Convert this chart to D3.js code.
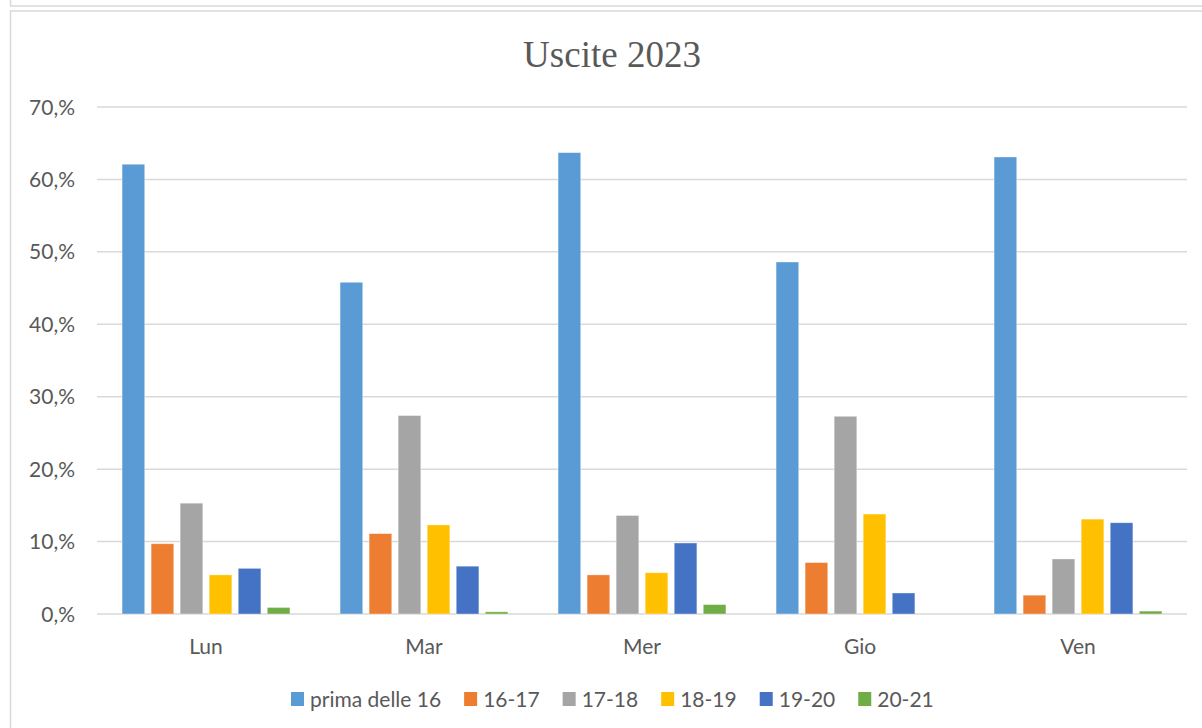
<!DOCTYPE html>
<html>
<head>
<meta charset="utf-8">
<script src="https://cdn.jsdelivr.net/npm/d3@7"></script>
<style>
  body { margin: 0; background: #fff; }
  svg { display: block; }
  .tick-label, .cat-label, .legend-label { font-family: Lato, "Open Sans", sans-serif; fill: #595959; }
</style>
</head>
<body>
<svg id="plot" width="1202" height="728"></svg>
<script>
// chart data
var days = ['Lun', 'Mar', 'Mer', 'Gio', 'Ven'];
var slots = ['prima delle 16', '16-17', '17-18', '18-19', '19-20', '20-21'];
var slotColors = ['#5B9BD5', '#ED7D31', '#A5A5A5', '#FFC000', '#4472C4', '#70AD47'];
// percent per day, one array per slot
var primaDelle16 = [62.1, 45.8, 63.7, 48.6, 63.1];
var s16_17 = [9.7, 11.1, 5.4, 7.1, 2.6];
var s17_18 = [15.3, 27.4, 13.6, 27.3, 7.6];
var s18_19 = [5.4, 12.3, 5.7, 13.8, 13.1];
var s19_20 = [6.3, 6.6, 9.8, 2.9, 12.6];
var s20_21 = [0.9, 0.3, 1.3, 0, 0.4];
var yTicks = [0, 10, 20, 30, 40, 50, 60, 70];

var series = [primaDelle16, s16_17, s17_18, s18_19, s19_20, s20_21];

var svg = d3.select('#plot');
var width = +svg.attr('width');
var height = +svg.attr('height');

var plotLeft = 97, plotRight = 1187, plotTop = 107, plotBottom = 614;

// frames (box above + chart area border)
svg.append('rect')
  .attr('x', 10.5).attr('y', -30).attr('width', 1300).attr('height', 36)
  .attr('fill', 'none').attr('stroke', '#d9d9d9').attr('stroke-width', 1.5);
svg.append('rect')
  .attr('x', 10.5).attr('y', 11).attr('width', 1300).attr('height', 800)
  .attr('fill', 'none').attr('stroke', '#d9d9d9').attr('stroke-width', 1.5);

// title
svg.append('text')
  .attr('x', 612).attr('y', 67)
  .attr('text-anchor', 'middle')
  .style('font-family', '"Liberation Serif", "DejaVu Serif", serif')
  .style('font-size', '37px')
  .style('fill', '#595959')
  .text('Uscite 2023');

var x0 = d3.scaleBand()
  .domain(days)
  .range([plotLeft, plotRight])
  .paddingInner(0.23)
  .paddingOuter(0.115);

var x1 = d3.scaleBand()
  .domain(d3.range(slots.length))
  .range([0, x0.bandwidth()])
  .paddingInner(0.22);

var y = d3.scaleLinear()
  .domain([0, 70])
  .range([plotBottom, plotTop]);

// gridlines
svg.append('g')
  .selectAll('line')
  .data(yTicks)
  .enter()
  .append('line')
  .attr('x1', plotLeft).attr('x2', plotRight)
  .attr('y1', function (d) { return y(d); })
  .attr('y2', function (d) { return y(d); })
  .attr('stroke', '#d9d9d9')
  .attr('stroke-width', 1.5);

// y labels
svg.append('g')
  .selectAll('text')
  .data(yTicks)
  .enter()
  .append('text')
  .attr('class', 'tick-label')
  .attr('x', 75)
  .attr('y', function (d) { return y(d); })
  .attr('dy', '0.36em')
  .attr('text-anchor', 'end')
  .style('font-size', '21px')
  .text(function (d) { return d + ',%'; });

// bars
var groups = svg.append('g')
  .selectAll('g')
  .data(days)
  .enter()
  .append('g')
  .attr('transform', function (d) { return 'translate(' + x0(d) + ',0)'; });

groups.selectAll('rect')
  .data(function (d, i) {
    return series.map(function (s, j) { return { slot: j, value: s[i] }; });
  })
  .enter()
  .append('rect')
  .attr('x', function (d) { return x1(d.slot); })
  .attr('width', x1.bandwidth())
  .attr('y', function (d) { return y(d.value); })
  .attr('height', function (d) { return y(0) - y(d.value); })
  .attr('fill', function (d) { return slotColors[d.slot]; })
  .attr('stroke', '#ffffff')
  .attr('stroke-opacity', 0.45)
  .attr('stroke-width', 0.8);

// category labels
svg.append('g')
  .selectAll('text')
  .data(days)
  .enter()
  .append('text')
  .attr('class', 'cat-label')
  .attr('x', function (d) { return x0(d) + x0.bandwidth() / 2; })
  .attr('y', 654)
  .attr('text-anchor', 'middle')
  .style('font-size', '21px')
  .text(function (d) { return d; });

// legend
var legend = svg.append('g');
var lx = 291;
slots.forEach(function (name, i) {
  legend.append('rect')
    .attr('x', lx).attr('y', 692)
    .attr('width', 13).attr('height', 14)
    .attr('fill', slotColors[i]);
  var t = legend.append('text')
    .attr('class', 'legend-label')
    .attr('x', lx + 19).attr('y', 707)
    .style('font-size', '21px')
    .text(name);
  lx += 19 + t.node().getComputedTextLength() + 23;
});
</script>
</body>
</html>
